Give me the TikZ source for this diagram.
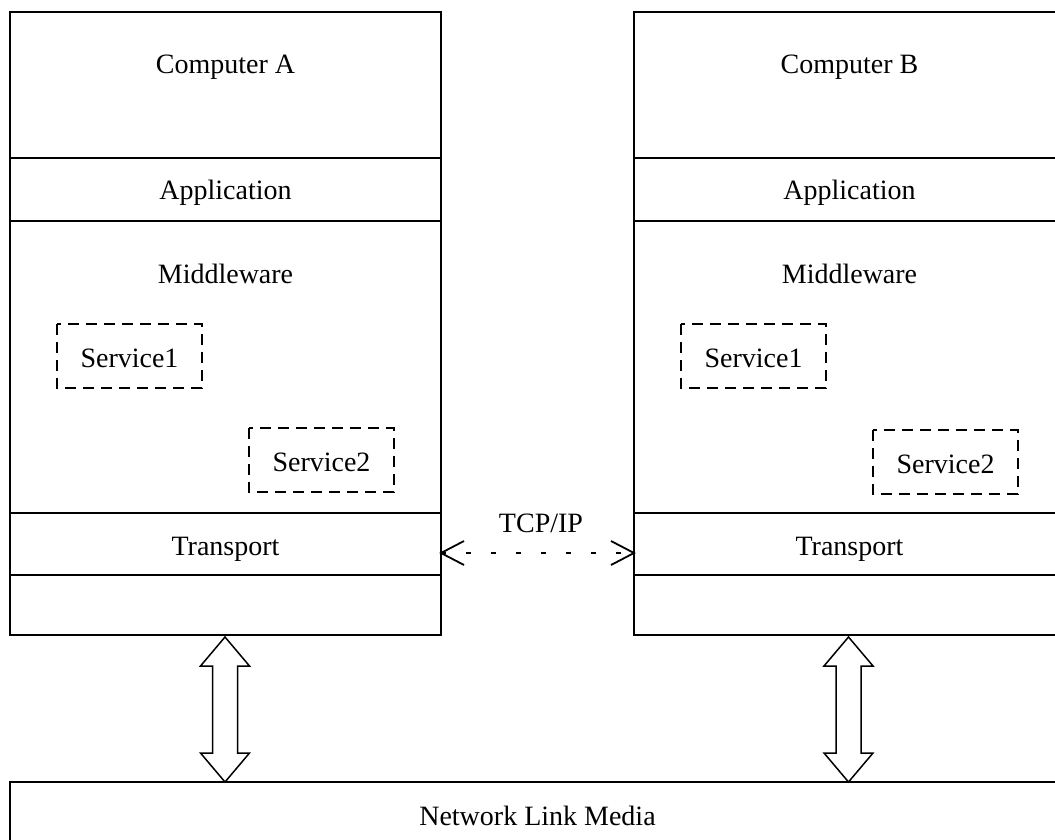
\documentclass[tikz,border=0pt]{standalone}
\usepackage{fontspec}
\setmainfont{Liberation Serif}
\begin{document}
\begin{tikzpicture}[x=1pt,y=-1pt,
  frame/.style={draw,line width=1.5pt},
  label/.style={font=\fontsize{28}{32}\selectfont,inner sep=0pt,anchor=base},
  svc/.style={draw,line width=2.8pt,dash pattern=on 11pt off 7pt},
  fat/.style={draw,line width=1.5pt,fill=white,line join=miter},
]
\useasboundingbox (0,0) rectangle (1055,840);

% computer stacks
\foreach \n/\x/\t in {A/10/Computer A,B/634/Computer B}{
  \draw[frame] (\x,12) rectangle ++(431,623);
  \foreach \yy in {158,221,513,575} \draw[frame] (\x,\yy) -- ++(431,0);
  \node[label] (title\n) at (\x+215.5,74) {\t};
  \node[label] (app\n) at (\x+215.5,200) {Application};
  \node[label] (mid\n) at (\x+215.5,283) {Middleware};
  \node[label] (tr\n) at (\x+215.5,555) {Transport};
}

% services inside the middleware layer
\foreach \n/\x/\y/\t in {A1/57/324/Service1,A2/249/428/Service2,
                         B1/681/324/Service1,B2/873/430/Service2}{
  \draw[svc] (\x,\y) rectangle ++(145,64);
  \node[label] (s\n) at (\x+72.5,\y+43) {\t};
}

% network link
\draw[frame] (10,782) rectangle (1065,870);
\node[label] (net) at (537.5,825) {Network Link Media};

% TCP/IP link between transport layers
\coordinate (tA) at (441,553);
\coordinate (tB) at (634,553);
\draw[line width=2pt,dash pattern=on 5pt off 20pt,dash phase=0pt] (tA) -- (tB);
\draw[line width=1.8pt] (tA) ++(23,-12) -- (tA) -- ++(23,12);
\draw[line width=1.8pt] (tB) ++(-23,-12) -- (tB) -- ++(-23,12);
\node[label] (tcp) at (541,532) {TCP/IP};

% physical access arrows between each stack and the link
\foreach \x in {225,848.5}{
  \draw[fat] (\x,637) -- (\x+24.5,666) -- (\x+12.5,666) -- (\x+12.5,753)
    -- (\x+24.5,753) -- (\x,782) -- (\x-24.5,753) -- (\x-12.5,753)
    -- (\x-12.5,666) -- (\x-24.5,666) -- cycle;
}
\end{tikzpicture}
\end{document}
